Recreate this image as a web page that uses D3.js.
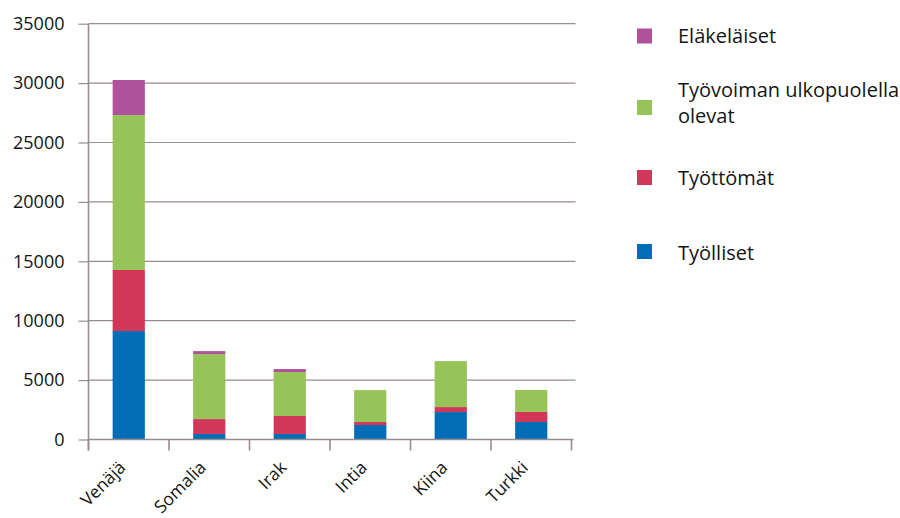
<!DOCTYPE html>
<html><head><meta charset="utf-8">
<script src="https://cdn.jsdelivr.net/npm/d3@7/dist/d3.min.js"></script>
<style>body{margin:0;background:#fff}svg{display:block}text{font-family:"Open Sans",sans-serif;fill:#141414}</style>
</head><body>
<svg id="c" width="900" height="518"></svg>
<script>
const categories = ["Venäjä","Somalia","Irak","Intia","Kiina","Turkki"];
const seriesNames = ["Työlliset","Työttömät","Työvoiman ulkopuolella olevat","Eläkeläiset"];
const tyolliset = [9130, 460, 460, 1220, 2310, 1470];
const tyottomat = [5140, 1260, 1520, 250, 420, 850];
const ulkopuolella = [13040, 5470, 3700, 2690, 3870, 1850];
const elakelaiset = [2950, 250, 250, 0, 0, 0];
const yTicks = [0,5000,10000,15000,20000,25000,30000,35000];
const colors = ["#006db6","#d2375a","#96c459","#b0519b"];
const legendOrder = [3,2,1,0];
const legendLabels = [["Eläkeläiset"],["Työvoiman ulkopuolella","olevat"],["Työttömät"],["Työlliset"]];

const svg = d3.select("#c");
const x0 = 88.5, x1 = 571.5, yb = 439.5, yt = 23.7;
const x = d3.scaleBand().domain(categories).range([x0,x1]).paddingInner(0).paddingOuter(0);
const y = d3.scaleLinear().domain([0,35000]).range([yb,yt]);
const axisCol = "#978c91";

// gridlines
svg.append("g").selectAll("line").data(yTicks.slice(1)).join("line")
  .attr("x1",x0).attr("x2",x1+4).attr("y1",d=>y(d)).attr("y2",d=>y(d))
  .attr("stroke",axisCol).attr("stroke-width",1.2);

// stacked data
const table = categories.map((c,i)=>({cat:c, s0:tyolliset[i], s1:tyottomat[i], s2:ulkopuolella[i], s3:elakelaiset[i]}));
const stack = d3.stack().keys(["s0","s1","s2","s3"])(table);
const bw = x.bandwidth()*0.4;
svg.append("g").selectAll("g").data(stack).join("g").attr("fill",(d,i)=>colors[i])
  .selectAll("rect").data(d=>d).join("rect")
  .attr("x",d=>x(d.data.cat)+x.bandwidth()/2-bw/2)
  .attr("width",bw)
  .attr("y",d=>y(d[1]))
  .attr("height",d=>Math.max(0,y(d[0])-y(d[1])));

// y axis
const ya = svg.append("g").attr("transform",`translate(${x0},0)`)
  .call(d3.axisLeft(y).tickValues(yTicks).tickSize(10).tickPadding(14).tickFormat(d3.format("d")));
ya.select(".domain").remove();
ya.selectAll(".tick line").attr("stroke",axisCol).attr("stroke-width",1.2);
ya.selectAll(".tick text").attr("font-size",18).attr("font-family","Open Sans").attr("fill","#141414");
svg.append("line").attr("x1",x0).attr("x2",x0).attr("y1",yt).attr("y2",yb+11)
  .attr("stroke",axisCol).attr("stroke-width",1.6);

// x axis
svg.append("line").attr("x1",x0).attr("x2",x1+2).attr("y1",yb).attr("y2",yb)
  .attr("stroke",axisCol).attr("stroke-width",1.6);
const bounds = categories.map(c=>x(c)).concat([x1]);
svg.append("g").selectAll("line").data(bounds).join("line")
  .attr("x1",d=>d).attr("x2",d=>d).attr("y1",yb).attr("y2",yb+11)
  .attr("stroke",axisCol).attr("stroke-width",1.6);
svg.append("g").selectAll("text").data(categories).join("text")
  .attr("transform",d=>`translate(${x(d)+x.bandwidth()/2-2},${yb+29}) rotate(-45)`)
  .attr("text-anchor","end").attr("font-size",17.5).text(d=>d);

// legend
const lg = svg.append("g");
const squareY = [36, 107.5, 177.5, 251.5];
const baselines = [[43],[97,123],[185],[260]];
legendOrder.forEach((si,k)=>{
  lg.append("rect").attr("x",637).attr("y",squareY[k]-7.5).attr("width",15).attr("height",15).attr("fill",colors[si]);
  const t = lg.append("text").attr("x",678).attr("font-size",20);
  legendLabels[k].forEach((ln,j)=>{
    t.append("tspan").attr("x",678).attr("y",baselines[k][j]).text(ln);
  });
});
</script>
</body></html>
